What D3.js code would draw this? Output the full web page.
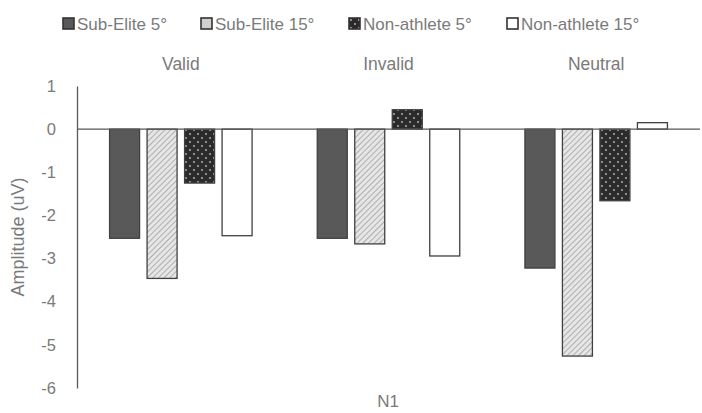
<!DOCTYPE html>
<html><head><meta charset="utf-8">
<script src="https://cdn.jsdelivr.net/npm/d3@7"></script>
<style>body{margin:0;background:#fff;} text{font-family:Arial,"Liberation Sans",sans-serif;}</style>
</head><body><svg id="c" width="702" height="413"></svg>
<script>
const categories = ["Valid", "Invalid", "Neutral"];
const seriesNames = ["Sub-Elite 5°", "Sub-Elite 15°", "Non-athlete 5°", "Non-athlete 15°"];
const subElite5 = [-2.53, -2.53, -3.22];
const subElite15 = [-3.46, -2.66, -5.26];
const nonAthlete5 = [-1.25, 0.45, -1.66];
const nonAthlete15 = [-2.47, -2.94, 0.15];
const yTicks = [1, 0, -1, -2, -3, -4, -5, -6];
const xTitle = "N1";
const yTitle = "Amplitude (uV)";

(function(){
const values = [subElite5, subElite15, nonAthlete5, nonAthlete15];
const svg = d3.select("#c");
const defs = svg.append("defs");
const hatch = defs.append("pattern").attr("id","hatch").attr("patternUnits","userSpaceOnUse")
  .attr("width",4).attr("height",4).attr("patternTransform","rotate(45)");
hatch.append("rect").attr("width",4).attr("height",4).attr("fill","#e6e6e6");
hatch.append("line").attr("x1",0).attr("y1",0).attr("x2",0).attr("y2",4).attr("stroke","#8a8a8a").attr("stroke-width",1.2);
const dots = defs.append("pattern").attr("id","dots").attr("patternUnits","userSpaceOnUse")
  .attr("width",8).attr("height",8);
dots.append("rect").attr("width",8).attr("height",8).attr("fill","#2b2b2b");
dots.append("circle").attr("cx",2).attr("cy",2).attr("r",0.9).attr("fill","#bdbdbd");
dots.append("circle").attr("cx",6).attr("cy",6).attr("r",0.9).attr("fill","#bdbdbd");
const fills = ["#595959", "url(#hatch)", "url(#dots)", "#ffffff"];
const stroke = "#404040";
const textCol = "#7a7a7a";

const mLeft = 77, mRight = 700, mTop = 86, mBottom = 388;
const y = d3.scaleLinear().domain([-6, 1]).range([mBottom, mTop]);
const x0 = d3.scaleBand().domain(categories).range([mLeft, mRight]);
const x1 = d3.scaleBand().domain(seriesNames).range([0, 150]).paddingInner(0.2).paddingOuter(0.1);

const yAxis = d3.axisLeft(y).tickValues(yTicks).tickSize(0).tickPadding(0).tickFormat(d => String(d));
const ya = svg.append("g").attr("transform", `translate(${mLeft},0)`).call(yAxis);
ya.select(".domain").attr("stroke","#595959").attr("stroke-width",1.3);
ya.selectAll("text").attr("x",-21).attr("font-size",16.5).attr("fill",textCol)
  .attr("font-family","Arial,'Liberation Sans',sans-serif");

categories.forEach((c, i) => {
  const gx = x0(c) + x0.bandwidth()/2 - 75;
  seriesNames.forEach((s, j) => {
    const v = values[j][i];
    svg.append("rect")
      .attr("x", gx + x1(s))
      .attr("y", y(Math.max(0, v)))
      .attr("width", x1.bandwidth())
      .attr("height", Math.abs(y(v) - y(0)))
      .attr("fill", fills[j]).attr("stroke", stroke).attr("stroke-width", 1.3);
  });
  svg.append("text").attr("x", x0(c) + x0.bandwidth()/2).attr("y", 70)
    .attr("text-anchor","middle").attr("font-size",17.5).attr("fill",textCol).text(c);
});

svg.append("line").attr("x1", mLeft).attr("x2", mRight).attr("y1", y(0)).attr("y2", y(0))
  .attr("stroke","#595959").attr("stroke-width",1.3);

svg.append("text").attr("x", 388).attr("y", 407).attr("text-anchor","middle")
  .attr("font-size",17).attr("fill",textCol).text(xTitle);
svg.append("text").attr("transform", `translate(24,${(mTop+mBottom)/2}) rotate(-90)`)
  .attr("text-anchor","middle").attr("font-size",18).attr("fill",textCol).text(yTitle);

const legX = [63, 201, 349, 507];
seriesNames.forEach((s, j) => {
  const g = svg.append("g").attr("transform", `translate(${legX[j]},18)`);
  g.append("rect").attr("x",0).attr("y",0).attr("width",11).attr("height",11)
    .attr("fill", j===1 ? "#d0d0d0" : fills[j]).attr("stroke","#333").attr("stroke-width",1.6);
  g.append("text").attr("x",14).attr("y",12).attr("font-size",17).attr("fill",textCol).text(s);
});
})();
</script></body></html>
